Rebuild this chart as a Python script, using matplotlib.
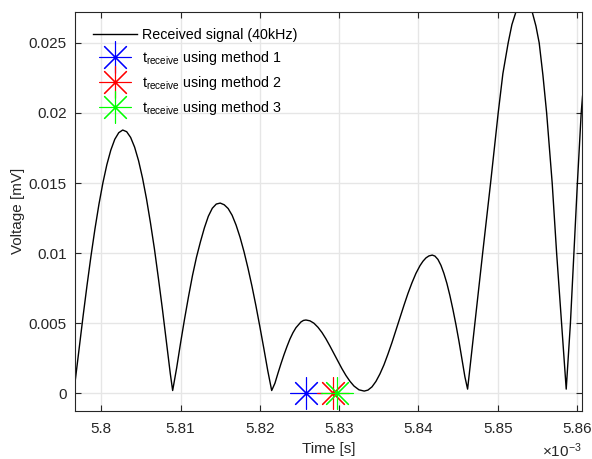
import matplotlib
matplotlib.use("Agg")
import matplotlib.pyplot as plt
from matplotlib.ticker import FuncFormatter

plt.rcParams['font.family'] = ['Liberation Sans', 'DejaVu Sans']
plt.rcParams['mathtext.fontset'] = 'custom'
plt.rcParams['mathtext.rm'] = 'Liberation Sans'
plt.rcParams['mathtext.it'] = 'Liberation Sans'

# time in units of 1e-3 s, voltage in mV
t_signal = [5.7967, 5.7972, 5.7977, 5.7982, 5.7987, 5.7992, 5.7997, 5.8002, 5.8007,
            5.8012, 5.8017, 5.8022, 5.8027, 5.8032, 5.8037, 5.8042, 5.8047, 5.8052,
            5.8057, 5.8062, 5.8067, 5.8072, 5.8077, 5.8082, 5.8087, 5.8090,
            5.8095, 5.8100, 5.8105, 5.8110, 5.8115, 5.8120, 5.8125, 5.8130, 5.8135,
            5.8140, 5.8145, 5.8150, 5.8155, 5.8160, 5.8165, 5.8170, 5.8175, 5.8180,
            5.8185, 5.8190, 5.8195, 5.8200, 5.8205, 5.8210, 5.82149,
            5.82190, 5.82228, 5.82266, 5.82304, 5.82342, 5.82379, 5.82417, 5.82455,
            5.82518, 5.82550, 5.82581, 5.82632, 5.82682, 5.82733, 5.82783, 5.82833,
            5.82884, 5.82934, 5.82985, 5.83035, 5.83086, 5.83136, 5.83187, 5.83250,
            5.83316,
            5.83363, 5.83414, 5.83464, 5.83514, 5.83565, 5.83615, 5.83666, 5.83716,
            5.83767, 5.83817, 5.83867, 5.83918, 5.83968, 5.84019, 5.84057, 5.84095,
            5.84132, 5.84174, 5.84208, 5.84246, 5.84284, 5.84321, 5.84359, 5.84397,
            5.84435, 5.84473, 5.84511, 5.84548, 5.84586, 5.84620,
            5.84712, 5.84810, 5.84910, 5.85006, 5.85065, 5.85132, 5.85179, 5.85229,
            5.85280, 5.85330, 5.85381, 5.85435, 5.85482, 5.85523, 5.85570, 5.85617,
            5.85687, 5.85743, 5.85806, 5.85864,
            5.85917, 5.85961, 5.86005, 5.86053, 5.86070]
v_signal = [0.00085, 0.00320, 0.00550, 0.00771, 0.00980, 0.01173, 0.01348, 0.01501, 0.01631,
            0.01735, 0.01812, 0.01859, 0.01878, 0.01866, 0.01825, 0.01756, 0.01659, 0.01535,
            0.01387, 0.01216, 0.01030, 0.00821, 0.00604, 0.00375, 0.00141, 0.0002,
            0.0018, 0.0036, 0.0053, 0.0069, 0.0084, 0.0097, 0.0108, 0.0118, 0.01263,
            0.01320, 0.01350, 0.01357, 0.01345, 0.01318, 0.01270, 0.01200, 0.01113, 0.01010,
            0.00893, 0.00765, 0.00625, 0.00475, 0.00320, 0.00160, 0.0002,
            0.00072, 0.00143, 0.00211, 0.00275, 0.00334, 0.00387, 0.00432, 0.00468,
            0.00509, 0.00520, 0.00523, 0.00517, 0.00500, 0.00471, 0.00434, 0.00389,
            0.00337, 0.00283, 0.00229, 0.00176, 0.00127, 0.00086, 0.00052, 0.00025,
            0.00016,
            0.00023, 0.00046, 0.00085, 0.00138, 0.00203, 0.00279, 0.00362, 0.00450,
            0.00539, 0.00627, 0.00711, 0.00788, 0.00855, 0.00910, 0.00942, 0.00966,
            0.00980, 0.00986, 0.00979, 0.00955, 0.00913, 0.00856, 0.00784, 0.00697,
            0.00598, 0.00490, 0.00372, 0.00246, 0.00118, 0.0003,
            0.0050, 0.0100, 0.0150, 0.0200, 0.0228, 0.0250, 0.0263, 0.0272,
            0.0281, 0.0285, 0.0281, 0.0272, 0.0262, 0.0250, 0.0227, 0.0200,
            0.0150, 0.0100, 0.0050, 0.0003,
            0.0050, 0.0100, 0.0150, 0.0200, 0.0212]

t_method = [5.82581, 5.82926, 5.82968]
v_method = [0.0, 0.0, 0.0]
method_colors = ['#0000ff', '#ff0000', '#00ff00']
method_labels = [r'$\mathregular{t_{receive}}$ using method 1',
                 r'$\mathregular{t_{receive}}$ using method 2',
                 r'$\mathregular{t_{receive}}$ using method 3']

x_ticks = [5.80, 5.81, 5.82, 5.83, 5.84, 5.85, 5.86]
y_ticks = [0, 0.005, 0.01, 0.015, 0.02, 0.025]

fig = plt.figure(figsize=(5.92, 4.59), dpi=100)
ax = fig.add_axes([0.1272, 0.1046, 0.8559, 0.8699])

ax.plot(t_signal, v_signal, color='black', lw=1.0, label='Received signal (40kHz)')
for t, v, c, lab in zip(t_method, v_method, method_colors, method_labels):
    ax.plot([t], [v], linestyle='none', marker=(8, 2, 0), markersize=23,
            markeredgewidth=0.8, color=c, label=lab)

ax.set_xlim(5.79672, 5.86063)
ax.set_ylim(-0.00126, 0.02722)
ax.set_xticks(x_ticks)
ax.set_yticks(y_ticks)
fmt = FuncFormatter(lambda val, pos: '%g' % round(val, 6))
ax.xaxis.set_major_formatter(fmt)
ax.yaxis.set_major_formatter(fmt)

ax.grid(True, color='#e6e6e6', lw=1.0)
ax.set_axisbelow(True)
ax.tick_params(direction='in', length=4, width=0.8, top=True, right=True,
               labelsize=11, colors='#262626')
ax.tick_params(axis='x', pad=8)
ax.tick_params(axis='y', pad=6)
for s in ax.spines.values():
    s.set_color('#262626')
    s.set_linewidth(0.8)

ax.set_xlabel('Time [s]', fontsize=11, color='#262626', labelpad=4)
ax.set_ylabel('Voltage [mV]', fontsize=11, color='#262626', labelpad=3)
ax.text(1.0, -0.075, r'$\mathregular{\times10^{-3}}$', transform=ax.transAxes,
        ha='right', va='top', fontsize=11, color='#262626')

ax.legend(loc='upper left', bbox_to_anchor=(0.035, 0.96), frameon=False,
          fontsize=10.3, handlelength=3.1, handletextpad=0.35, labelspacing=0.5,
          borderpad=0, borderaxespad=0)

fig.savefig('out.png', dpi=100)
